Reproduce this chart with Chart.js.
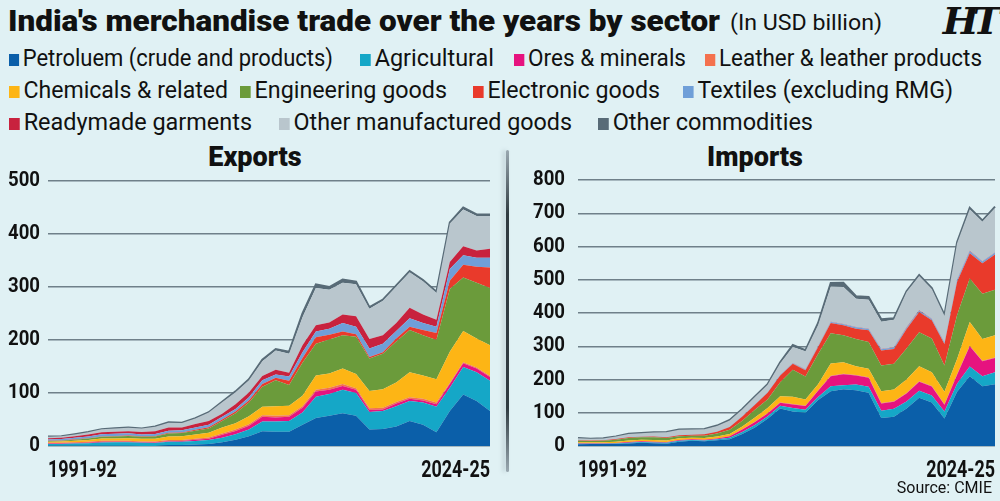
<!DOCTYPE html>
<html>
<head>
<meta charset="utf-8">
<script src="https://cdn.jsdelivr.net/npm/chart.js"></script>
<style>
  html, body { margin: 0; padding: 0; }
  body { width: 1000px; height: 501px; background: #e0f1f4; position: relative; overflow: hidden;
         font-family: Roboto, sans-serif; color: #111; }
  .fit { position: absolute; white-space: nowrap; transform-origin: 0 50%; }
  #titleMain { left: 8px; top: 3px; font-size: 30px; font-weight: 900; }
  #titleUnit { left: 730px; top: 10px; font-size: 22px; }
  #logo { position: absolute; right: 5px; top: -2px; font-family: "DejaVu Serif", "Liberation Serif", serif; font-weight: bold; font-style: italic; font-size: 38px; letter-spacing: -6px; }
  .item { font-size: 24px; }
  .item i { display: inline-block; width: 11px; height: 12px; margin-right: 4px; vertical-align: 0px; }
  .ctitle { position: absolute; top: 141px; font-size: 27px; font-weight: 900; width: 300px; text-align: center; }
  canvas { position: absolute; }
  #divider { position: absolute; left: 506px; top: 150px; width: 3px; height: 322px;
             background: linear-gradient(#9aa8b0, #2f3a40 20%, #2f3a40 80%, #9aa8b0); border-radius: 2px;
             box-shadow: -3px 0 4px rgba(120,140,150,0.35); }
  #source { position: absolute; right: 8px; top: 478px; font-size: 16px; }
</style>
</head>
<body>
<div id="titleMain" class="fit">India's merchandise trade over the years by sector</div>
<div id="titleUnit" class="fit">(In USD billion)</div>
<div id="logo">HT</div>
<div id="legend"></div>
<div class="ctitle" style="left:105px">Exports</div>
<div class="ctitle" style="left:605px">Imports</div>
<div id="divider"></div>
<canvas id="exportsChart" width="500" height="316" style="left:0px; top:167px"></canvas>
<canvas id="importsChart" width="480" height="316" style="left:520px; top:167px"></canvas>
<div id="source">Source: CMIE</div>
<script>
const years = ['1991-92','1992-93','1993-94','1994-95','1995-96','1996-97','1997-98','1998-99','1999-00','2000-01',
  '2001-02','2002-03','2003-04','2004-05','2005-06','2006-07','2007-08','2008-09','2009-10','2010-11',
  '2011-12','2012-13','2013-14','2014-15','2015-16','2016-17','2017-18','2018-19','2019-20','2020-21',
  '2021-22','2022-23','2023-24','2024-25'];

const sectors = ['Petroluem (crude and products)','Agricultural','Ores & minerals','Leather & leather products',
  'Chemicals & related','Engineering goods','Electronic goods','Textiles (excluding RMG)',
  'Readymade garments','Other manufactured goods','Other commodities'];

const colors = ['#0b5fa9','#15a7c7','#e6137f','#f4714e','#fdb515','#6b9b3b','#e93a2b','#6f9fd8','#c8223e','#b9c6cd','#586b77'];

// Exports, USD billion
const expPetroleum = [0.3,0.4,0.4,0.4,0.5,0.5,0.4,0.1,0.1,1.9,2.1,2.6,3.6,6.9,11.6,18.6,28,27,27,40,53,57,62,57,31,32,37,47,40,26,66,97,85,66];
const expAgri = [3.5,3.5,4.2,4.6,6.3,6.5,6.5,5.9,5.7,6,6,7,7.5,8.5,10.4,12.4,18,19,20,23,40,41,44,43,33,34,38,38,42,48,44,52,54,57];
const expOres = [0.8,0.9,1,1.1,1.2,1.1,1.2,1,0.9,1.2,1.3,2,2.8,6,6.5,7.4,9,8,8,9,10,8,7,6,4,3,5,4,4,5,7,7,7,7];
const expLeather = [1.4,1.3,1.4,1.7,1.7,1.6,1.6,1.6,1.6,2,1.9,1.9,2.1,2.3,2.5,2.6,3,3,3,3,3,4,4,3,3,3,3,3,3,3,2,2,2,2];
const expChem = [2,2.2,2.8,3.5,4.3,4.6,5.1,5.1,5.5,6.7,6.9,8,9,11.3,12,15,16,18,18,20,27,27,29,27,33,35,37,47,44,44,59,59,55,58];
const expEngg = [1.5,1.7,2.2,2.7,3.3,3.7,4.2,3.6,4.2,5.8,6.1,7.5,8,12,19,26,38,49,39,62,60,64,63,70,61,67,77,80,76,74,118,101,105,108];
const expElec = [0.5,0.5,0.6,0.7,0.7,0.8,0.8,0.9,1,1.2,1.2,1.5,2.5,3,3,4,5,5,8,9,12,9,7,5,3,3,6,6,10,13,16,24,30,39];
const expTextiles = [2.5,2.5,2.9,3.3,4,4.2,4.2,3.6,3.5,4,4,4.5,4.5,5,5,6,7,6,8,11,11,11,16,14,16,16,14,16,13,12,22,18,17,18];
const expRmg = [2.3,2.5,3,3.5,4,4,4,4.7,5.2,6,5.5,6.3,7,6,9,9,8,9,7,13,12,12,16,20,18,16,15,20,16,13,13,17,14,17];
const expOtherMfg = [2.8,2.7,3.3,4.5,5.4,6,6.5,6.3,8.7,9.2,8.2,10.7,16,21.5,22.5,23,28,36,36,53,70,62,60,60,57,65,69,67,63,51,73,69,65,62];
const expOtherComm = [0.3,0.3,0.4,0.3,0.4,0.5,0.5,0.4,0.4,0.6,0.6,0.7,0.8,1,1.5,2,3,3,4,7,7,5,6,5,3,2,2,2,2,2,2,4,3,3];

// Imports, USD billion
const impPetroleum = [5.4,6.1,5.8,5.9,7.5,10,8.2,6.4,12.6,15.7,14,17.6,20.6,36,56,82,113,104,100,138,165,171,168,160,84,88,113,145,131,83,163,210,180,186];
const impAgri = [1.1,0.9,1,1.3,2,2,2.3,3.1,3.4,2.2,2.5,2.4,3.9,6,7,7,8,10,9,9,15,12,17,18,22,24,21,21,21,21,24,29,30,36];
const impOres = [1.5,1.3,1.5,1.8,2.2,2,2.2,2,2,2.1,2.2,2.5,4.5,8,9,9,9,11,11,19,30,33,27,27,22,21,24,27,27,20,27,61,45,43];
const impLeather = [0.2,0.2,0.2,0.3,0.3,0.3,0.3,0.3,0.3,0.3,0.3,0.3,0.4,0.5,0.6,0.7,1,1,1,1,1.5,1.5,1.5,1.5,1.5,1.5,1.5,1.5,1.5,1.5,1.5,1.5,1.5,1.5];
const impChem = [2.8,2.5,3,3.7,4.5,4.5,5,4.7,4.7,4.2,5,5.7,6.6,8.5,13.4,15.3,19,22,19,19,36.5,34.5,26.5,25.5,35.5,35.5,40.5,45.5,41.5,37.5,46.5,71.5,65.5,66.5];
const impEngg = [5,4,4.5,6,7.5,7.2,8,7.5,6.5,6,7,9,13,17,23,26,42,81,69,91,91,81,82,81,77,77,93,102,101,79,132,131,136,137];
const impElec = [1.5,1.3,1.5,1.8,2,2,2.3,2.5,3,3.5,4,5,8,13,15,20,20,18,19,21,31,30,31,35,45,45,59,61,55,65,100,76,92,106];
const impTextiles = [0.5,0.5,0.5,0.7,0.8,0.8,0.7,0.7,0.7,0.8,0.8,0.8,1,1,1.2,1.5,2,2,2,2,3,3,4,4,4,4,4,4,4,4,6,6,5,5];
const impRmg = [0.1,0.1,0.1,0.1,0.1,0.1,0.1,0.1,0.1,0.1,0.2,0.2,0.2,0.3,0.3,0.3,0.5,0.5,0.5,0.7,1,1,1,1,1,1,1,1,1,1,1,1,1,1];
const impOtherMfg = [5.5,4.6,4.7,6.6,9.2,9.6,11.7,14.4,15.7,14.9,14.6,17,18.8,19.7,21.5,22.2,34.5,48.5,54.5,63.3,105,111,85,87,82,83,106,103,89,80,109,125,119,134];
const impOtherComm = [0.5,0.4,0.5,0.5,0.6,0.6,0.7,0.7,0.7,0.7,0.8,0.9,1.1,1.5,2.2,1.7,2.7,5.7,3.4,5.8,11.3,12.7,7.2,8,7,4.4,2.6,3.1,2.7,2.4,3,4,3,4];

const exportSeries = [expPetroleum, expAgri, expOres, expLeather, expChem, expEngg, expElec, expTextiles, expRmg, expOtherMfg, expOtherComm];
const importSeries = [impPetroleum, impAgri, impOres, impLeather, impChem, impEngg, impElec, impTextiles, impRmg, impOtherMfg, impOtherComm];

const exportTicks = [0, 100, 200, 300, 400, 500];
const importTicks = [0, 100, 200, 300, 400, 500, 600, 700, 800];

// squeeze a piece of text so it spans a given width (the print uses a condensed face)
function fitWidth(el, target) {
  const wNow = el.getBoundingClientRect().width;
  if (wNow > 0) el.style.transform = 'scaleX(' + (target / wNow) + ')';
}

// legend rows: [series index, left, right]
const legendRows = [
  [[0, 9, 333], [1, 360, 494], [2, 514, 686], [3, 705, 982]],
  [[4, 9, 228], [5, 240, 447], [6, 473, 660], [7, 683, 953]],
  [[8, 9, 252], [9, 279, 572], [10, 598, 813]]
];
const legend = document.getElementById('legend');
legendRows.forEach((row, r) => {
  row.forEach(([idx, left, right]) => {
    const span = document.createElement('div');
    span.className = 'fit item';
    span.style.left = left + 'px';
    span.style.top = (44 + r * 32) + 'px';
    span.innerHTML = '<i style="background:' + colors[idx] + '"></i>' + sectors[idx];
    legend.appendChild(span);
    fitWidth(span, right - left);
  });
});
fitWidth(document.getElementById('titleMain'), 712);
fitWidth(document.getElementById('titleUnit'), 152);

// narrow the tick labels on the canvas too
const condenseTicks = {
  id: 'condenseTicks',
  beforeDraw(chart) {
    const ctx = chart.ctx;
    if (ctx._squeezed) return;
    const fill = ctx.fillText;
    ctx.fillText = function (text, x, y, maxWidth) {
      const k = /^\d{4}-\d{2}$/.test(text) ? 0.78 : 0.93;
      this.save();
      this.translate(x, y);
      this.scale(k, 1);
      fill.call(this, text, 0, 0);
      this.restore();
    };
    ctx._squeezed = true;
  }
};

function makeChart(canvasId, series, ticks, yWidth, yPad, padTop, padRight) {
  const datasets = series.map((data, i) => ({
    label: sectors[i],
    data: data,
    backgroundColor: colors[i],
    borderColor: i === series.length - 1 ? colors[i] : 'rgba(0,0,0,0)',
    borderWidth: i === series.length - 1 ? 2 : 0,
    fill: i === 0 ? 'origin' : '-1',
    pointRadius: 0,
    tension: 0
  }));

  return new Chart(document.getElementById(canvasId), {
    type: 'line',
    data: { labels: years, datasets: datasets },
    plugins: [condenseTicks],
    options: {
      responsive: false,
      animation: false,
      layout: { padding: { top: padTop, right: padRight, bottom: 0, left: 0 } },
      plugins: { legend: { display: false }, tooltip: { enabled: false } },
      scales: {
        x: {
          grid: { display: false },
          border: { display: false },
          ticks: {
            autoSkip: false,
            maxRotation: 0,
            align: 'inner',
            color: '#111',
            font: { family: 'Roboto', size: 23, weight: 'bold' },
            padding: 3,
            callback: function (val, index) {
              return (index === 0 || index === years.length - 1) ? years[index] : '';
            }
          },
          afterFit: function (scale) { scale.height = 37; scale.paddingLeft = 0; scale.paddingRight = 0; }
        },
        y: {
          stacked: true,
          min: 0,
          max: ticks[ticks.length - 1],
          afterBuildTicks: function (scale) { scale.ticks = ticks.map(v => ({ value: v })); },
          grid: { color: '#6f8089', lineWidth: 1.5, drawTicks: false },
          border: { display: false },
          ticks: { color: '#111', font: { family: 'Roboto', size: 20, weight: 'bold' }, padding: yPad },
          afterFit: function (scale) { scale.width = yWidth; scale.paddingTop = 0; scale.paddingBottom = 0; }
        }
      }
    }
  });
}

makeChart('exportsChart', exportSeries, exportTicks, 48, 8, 14, 10);
makeChart('importsChart', importSeries, importTicks, 58, 13, 13, 5);
</script>
</body>
</html>
